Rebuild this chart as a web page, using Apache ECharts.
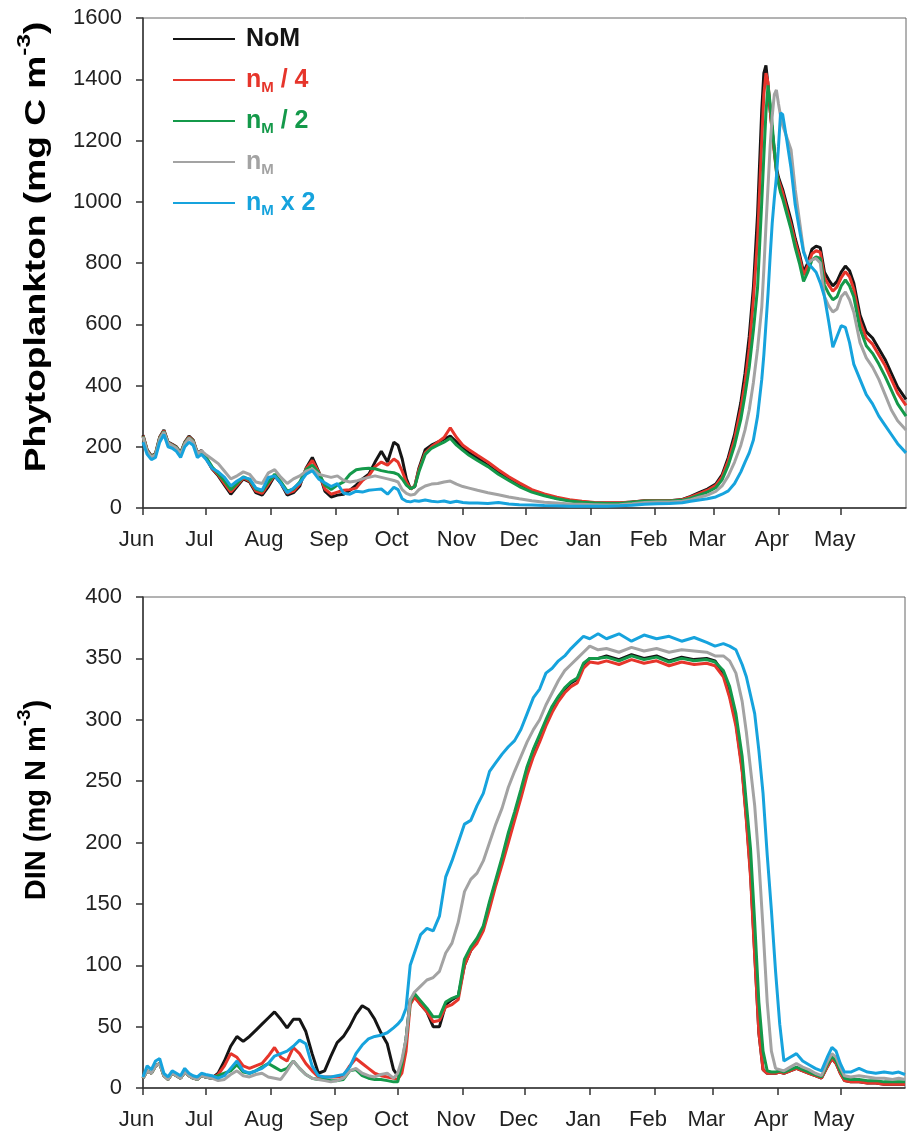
<!DOCTYPE html>
<html><head><meta charset="utf-8">
<script src="https://cdn.jsdelivr.net/npm/echarts@6/dist/echarts.min.js"></script>
<style>html,body{margin:0;padding:0;background:#fff}#c{width:911px;height:1139px}</style>
</head><body><div id="c"></div>
<script>
// ---------- axis ticks ----------
const monthDays = [0,30,61,92,122,153,183,214,245,273,304,334];
const monthLabels = ['Jun','Jul','Aug','Sep','Oct','Nov','Dec','Jan','Feb','Mar','Apr','May'];

// ---------- series names / colours ----------
const seriesNames = ['NoM','nM / 4','nM / 2','nM','nM x 2'];
const seriesColors = ['#151515','#e6352b','#14994a','#a3a3a3','#16a3dd'];

// ---------- top panel: Phytoplankton (mg C m-3) ----------
const topDays = [0,2,4,6,8,10,12,14,16,18,
20,22,24,26,28,30,33,36,39,42,
45,48,51,54,57,60,63,66,69,72,
75,78,81,84,87,90,93,96,99,102,
105,108,111,114,117,120,122,124,126,128,
130,132,135,138,141,144,147,150,153,156,
160,165,170,175,180,186,192,198,204,210,
216,222,228,234,240,246,252,258,262,266,
270,274,277,280,283,286,288,290,292,294,
296,297,298,299,300,301,302,303,304,305,
306,308,310,312,314,316,318,320,322,324,
326,328,330,332,334,336,338,340,343,346,
349,352,355,358,361,365];

const phytoNoM = [238,190,170,178,232,255,215,208,200,180,
215,235,222,180,188,165,128,105,75,45,
70,95,85,50,42,70,105,80,42,50,
72,130,165,120,55,36,42,45,58,75,
95,110,150,185,150,215,205,160,95,62,
70,130,190,205,215,225,235,215,195,180,
163,140,115,95,75,55,42,32,25,20,
17,16,16,20,24,24,24,28,38,50,
62,78,108,165,240,345,440,560,720,960,
1300,1420,1445,1380,1300,1230,1170,1110,1080,1060,
1040,990,940,880,830,770,800,845,855,850,
770,745,725,740,770,790,775,735,630,575,
555,520,485,440,395,355];

const phytoQuarter = [236,188,168,176,230,252,213,206,198,178,
213,232,220,180,186,165,130,108,80,52,
75,98,88,55,48,78,108,82,48,55,
78,128,155,118,62,45,52,58,60,65,
90,105,135,150,140,160,150,120,85,62,
72,125,180,200,215,230,262,230,205,190,
172,150,125,102,82,60,46,35,27,22,
18,17,17,20,24,24,24,27,36,47,
58,74,102,155,225,325,410,520,680,880,
1200,1350,1420,1390,1300,1230,1160,1100,1070,1050,
1030,975,925,870,820,760,790,830,840,835,
752,728,708,722,752,772,755,715,610,555,
535,500,465,420,375,335];

const phytoHalf = [234,186,167,175,228,250,212,205,197,177,
212,230,218,178,185,168,135,112,88,60,
80,102,92,62,55,85,110,85,55,62,
85,125,140,115,75,60,75,85,110,125,
128,130,128,122,118,115,110,95,75,63,
70,118,175,195,205,215,228,205,188,172,
155,135,110,90,70,52,40,30,23,19,
16,15,15,19,23,23,23,25,32,42,
52,66,92,140,205,290,370,460,580,720,
1000,1150,1290,1380,1320,1250,1170,1100,1060,1030,
1010,960,910,850,800,740,770,810,820,815,
728,700,680,690,725,745,725,690,585,530,
505,470,430,385,340,300];

const phytoNM = [232,185,166,174,226,248,212,204,196,176,
210,228,216,178,186,175,160,145,120,95,
105,118,110,85,80,115,125,100,80,95,
105,120,128,110,105,100,105,90,85,88,
95,100,105,100,95,90,85,60,48,42,
45,60,72,78,80,85,88,78,70,65,
58,50,43,36,30,24,19,16,13,12,
11,10,11,14,18,20,20,22,27,35,
42,54,72,105,150,205,255,320,410,520,
656,780,920,1050,1180,1280,1350,1365,1320,1280,
1250,1210,1170,1040,940,840,800,810,815,800,
690,660,640,650,690,705,680,640,540,490,
460,420,370,320,285,255];

const phytoDouble = [215,175,158,165,215,240,200,195,185,165,
200,215,205,165,175,160,130,118,100,72,
88,100,95,65,58,100,105,80,50,65,
82,110,122,95,82,70,80,48,45,55,
52,58,60,62,45,68,60,30,22,20,
24,22,26,22,20,23,18,22,18,16,
16,15,18,13,11,10,8,7,6,6,
6,6,7,9,12,14,15,17,22,26,
30,36,45,56,80,118,150,180,222,300,
420,500,600,700,820,930,1010,1080,1180,1290,
1285,1200,1110,990,910,835,800,785,770,735,
690,610,525,560,595,590,540,470,420,370,
340,300,270,240,210,180];

// ---------- bottom panel: DIN (mg N m-3) ----------
const dinDays = [0,2,4,6,8,10,12,14,16,18,
20,22,24,26,28,30,33,36,39,42,
45,48,51,54,57,60,63,66,69,72,
75,78,81,84,87,90,93,96,99,102,
105,108,111,114,117,120,122,124,126,128,
130,133,136,139,142,145,148,151,154,157,
160,163,166,169,172,175,178,181,184,187,
190,193,196,199,202,205,208,211,214,218,
222,228,234,240,246,252,258,264,270,274,
278,281,284,287,289,291,293,295,297,299,
301,303,305,307,310,313,316,319,322,325,
328,330,332,334,336,339,343,347,351,355,
359,362,365];

const dinNoM = [8,14,12,18,20,10,7,12,10,8,
13,10,8,7,10,9,8,12,22,34,
42,38,42,47,52,57,62,56,49,56,
56,46,28,12,14,26,37,42,50,60,
67,64,56,45,36,15,10,15,40,72,
75,68,62,50,50,68,72,75,100,112,
120,130,150,168,185,205,222,240,260,275,
286,298,310,318,325,330,333,345,350,350,
352,349,353,350,352,348,351,349,350,348,
338,320,298,260,220,175,110,45,15,12,
12,12,13,12,14,16,14,12,10,8,
18,24,20,12,6,5,5,4,4,3,
3,3,3];

const dinQuarter = [8,14,12,18,20,10,7,12,10,8,
13,10,8,7,10,9,8,11,18,28,
25,18,16,18,20,26,33,25,22,33,
28,20,14,9,9,9,9,10,18,24,
20,16,12,10,9,8,7,12,30,68,
74,68,62,54,55,66,68,72,100,112,
118,128,146,165,182,200,218,236,255,270,
282,295,306,315,322,327,330,342,347,346,
348,345,349,346,348,344,347,345,346,344,
335,318,295,258,218,172,108,45,15,12,
12,12,13,12,14,16,14,12,10,8,
18,24,20,12,6,5,5,4,4,3,
3,3,3];

const dinHalf = [8,14,12,18,20,10,7,12,10,8,
13,10,8,7,10,9,8,10,12,14,
19,13,12,14,17,20,17,14,16,22,
16,11,8,7,7,6,6,7,14,15,
10,8,7,7,6,5,5,20,40,70,
77,71,65,58,58,70,73,75,105,115,
122,132,152,170,188,208,225,243,262,276,
288,300,311,319,326,331,334,346,350,350,
351,348,352,349,351,347,350,348,349,347,
340,327,305,270,232,195,135,70,30,14,
13,13,14,13,15,17,15,13,11,9,
20,26,22,14,8,7,7,6,6,5,
5,5,5];

const dinNM = [8,14,12,18,20,10,7,12,10,8,
13,10,8,7,10,9,8,6,7,11,
14,10,9,11,12,9,8,7,14,22,
16,11,8,7,6,5,6,8,14,16,
12,10,9,11,12,8,12,23,40,72,
78,83,88,90,95,110,118,135,160,170,
175,185,200,215,228,245,258,270,282,292,
300,312,322,332,340,345,350,355,360,357,
358,355,359,356,358,355,357,356,355,352,
352,348,338,315,290,260,230,185,130,70,
30,16,15,14,17,20,17,15,12,10,
22,28,25,17,10,9,10,9,8,8,
7,8,7];

const dinDouble = [9,18,15,22,24,12,9,14,12,10,
16,12,10,9,12,11,10,8,10,16,
22,14,12,14,16,20,26,28,30,34,
39,36,18,10,9,9,10,11,17,28,
35,40,42,43,45,49,52,56,65,100,
110,125,130,128,140,172,185,200,215,218,
230,240,258,265,272,278,283,292,305,318,
325,338,342,348,352,358,363,368,366,370,
366,370,364,369,366,368,364,367,363,360,
362,360,357,345,335,320,305,275,240,190,
145,95,52,22,25,28,22,19,16,14,
26,33,30,20,13,13,16,13,12,13,
12,13,11];

const topTicks = {min:0, max:1600, interval:200};
const dinTicks = {min:0, max:400, interval:50};

// ---------- build ----------
const FONT = "'Liberation Sans', Arial, Helvetica, sans-serif";
const topSets = [phytoNoM, phytoQuarter, phytoHalf, phytoNM, phytoDouble];
const dinSets = [dinNoM, dinQuarter, dinHalf, dinNM, dinDouble];
function zip(days, vals){ return days.map((d,i)=>[d, vals[i]]); }

const legendKeys = ['k','r','g','y','c'];
const legendLabels = ['{k|NoM}', '{r|n}{rs|M}{r| / 4}', '{g|n}{gs|M}{g| / 2}', '{y|n}{ys|M}', '{c|n}{cs|M}{c| x 2}'];
const rich = {};
legendKeys.forEach((k,i)=>{
  rich[k] = {fontFamily:FONT, fontSize:25, fontWeight:'bold', color:seriesColors[i], lineHeight:30, verticalAlign:'top', padding:[3,0,6,0]};
  rich[k+'s'] = {fontFamily:FONT, fontSize:15, fontWeight:'bold', color:seriesColors[i], lineHeight:15, verticalAlign:'bottom'};
});

const grids = [
  {left:143, top:18, width:763, height:490},
  {left:143, top:597, width:762, height:491}
];

function xAxisFor(i){
  return {
    type:'value', gridIndex:i, min:0, max:365,
    axisLine:{show:true, onZero:false, lineStyle:{color:'#333', width:1.5}},
    axisTick:{show:true, length:7, customValues:monthDays, lineStyle:{color:'#333', width:1.5}},
    axisLabel:{customValues:monthDays, formatter:v=>monthLabels[monthDays.indexOf(v)],
      fontFamily:FONT, fontSize:22, color:'#222', margin:21, padding:[0,13,0,0]},
    splitLine:{show:false}
  };
}
function yAxisFor(i, t){
  return {
    type:'value', gridIndex:i, min:t.min, max:t.max, interval:t.interval,
    axisLine:{show:true, lineStyle:{color:'#333', width:1.5}},
    axisTick:{show:true, length:7, lineStyle:{color:'#333', width:1.5}},
    axisLabel:{formatter:v=>String(v), fontFamily:FONT, fontSize:22, color:'#222', margin:21},
    splitLine:{show:false}
  };
}

const series = [];
seriesNames.forEach((n,i)=>{
  series.push({type:'line', name:n, xAxisIndex:0, yAxisIndex:0, data:zip(topDays, topSets[i]),
    showSymbol:false, symbol:'none', lineStyle:{color:seriesColors[i], width:3}, itemStyle:{color:seriesColors[i]}, z:2+i});
});
seriesNames.forEach((n,i)=>{
  series.push({type:'line', name:n, xAxisIndex:1, yAxisIndex:1, data:zip(dinDays, dinSets[i]),
    showSymbol:false, symbol:'none', lineStyle:{color:seriesColors[i], width:3}, itemStyle:{color:seriesColors[i]}, z:2+i});
});

const titleRich = {
  t:{fontFamily:FONT, fontSize:29, fontWeight:'bold', color:'#111', lineHeight:36, verticalAlign:'bottom'},
  u:{fontFamily:FONT, fontSize:19, fontWeight:'bold', color:'#111', lineHeight:15, verticalAlign:'top'}
};

const chart = echarts.init(document.getElementById('c'), null, {renderer:'canvas'});
chart.setOption({
  animation:false,
  backgroundColor:'#ffffff',
  grid: grids.map(g=>Object.assign({show:true, borderColor:'#666', borderWidth:1, backgroundColor:'transparent'}, g)),
  xAxis:[xAxisFor(0), xAxisFor(1)],
  yAxis:[yAxisFor(0, topTicks), yAxisFor(1, dinTicks)],
  legend:{
    show:true, orient:'vertical', left:168, top:19, itemWidth:62, itemHeight:2, itemGap:7,
    icon:'rect', selectedMode:false,
    data:seriesNames.map((n,i)=>({name:n, itemStyle:{color:seriesColors[i]}})),
    formatter:name=>legendLabels[seriesNames.indexOf(name)],
    textStyle:{rich:rich, padding:[0,0,0,6]}
  },
  graphic:[
    {type:'text', x:33, y:247, rotation:Math.PI/2, scaleX:1.28,
      style:{text:'{t|Phytoplankton (mg C m}{u|-3}{t|)}', rich:titleRich, align:'center', verticalAlign:'middle'}},
    {type:'text', x:33, y:800, rotation:Math.PI/2,
      style:{text:'{t|DIN (mg N m}{u|-3}{t|)}', rich:titleRich, align:'center', verticalAlign:'middle'}}
  ],
  series:series
});
</script>
</body></html>
